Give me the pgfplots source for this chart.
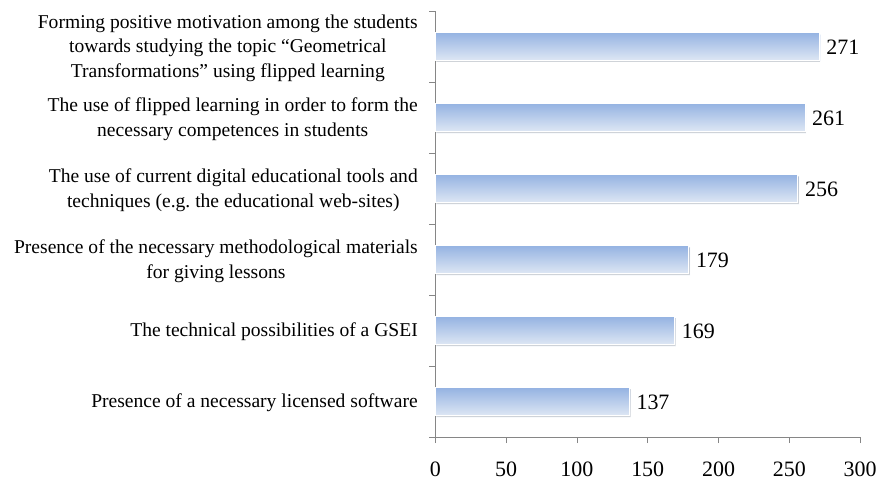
\documentclass[border=0pt]{standalone}
\usepackage{pgfplots}
\pgfplotsset{compat=1.18}
\usepackage{fontspec}
\setmainfont{Liberation Serif}
\usetikzlibrary{shadows}
\definecolor{bartop}{RGB}{149,179,226}
\definecolor{barbot}{RGB}{222,231,244}
\definecolor{axgray}{RGB}{134,134,134}
\begin{document}
\begin{tikzpicture}
\begin{axis}[
  at={(0,0)}, anchor=south west,
  scale only axis,
  width=425.7bp, height=427bp,
  xbar, bar width=28bp, bar shift=0pt,
  xmin=0, xmax=300,
  ymin=-0.5, ymax=5.5,
  axis x line*=bottom, axis y line*=left,
  axis line style={draw=axgray, line width=0.8pt},
  xtick={0,50,...,300},
  ytick={0,1,2,3,4,5},
  minor ytick={-0.5,0.5,1.5,2.5,3.5,4.5,5.5},
  tick align=outside,
  major tick length=6bp, minor tick length=6bp,
  x tick style={draw=axgray, line width=0.8pt},
  ytick style={draw=none},
  minor y tick style={draw=axgray, line width=0.8pt},
  yticklabels={
    {Presence of a necessary licensed software},
    {The technical possibilities of a GSEI},
    {Presence of the necessary methodological materials\\for giving lessons},
    {The use of current digital educational tools and\\techniques (e.g.\ the educational web-sites)},
    {The use of flipped learning in order to form the\\necessary competences in students},
    {Forming positive motivation among the students\\towards studying the topic ``Geometrical\\Transformations'' using flipped learning}},
  yticklabel style={align=center, font=\fontsize{19.6bp}{24.5bp}\selectfont, xshift=-8bp, yshift=-1.5bp},
  xticklabel style={font=\fontsize{22bp}{26bp}\selectfont, yshift=-15bp},
  /pgf/number format/assume math mode=true,
  nodes near coords,
  every node near coord/.append style={font=\fontsize{22bp}{26bp}\selectfont, text=black, xshift=3.5bp, yshift=-1bp},
  clip=false,
  barstyle/.style={draw=white, line width=0.8pt, top color=bartop, bottom color=barbot,
    drop shadow={shadow xshift=1.2bp, shadow yshift=-1.5bp, opacity=0.35, fill=black!60}},
]
\addplot[barstyle] coordinates {(137,0)};
\addplot[barstyle] coordinates {(169,1)};
\addplot[barstyle] coordinates {(179,2)};
\addplot[barstyle] coordinates {(256,3)};
\addplot[barstyle] coordinates {(261,4)};
\addplot[barstyle] coordinates {(271,5)};
\end{axis}
\path (-436bp,-43bp) rectangle (444bp,438bp);
\end{tikzpicture}
\end{document}
